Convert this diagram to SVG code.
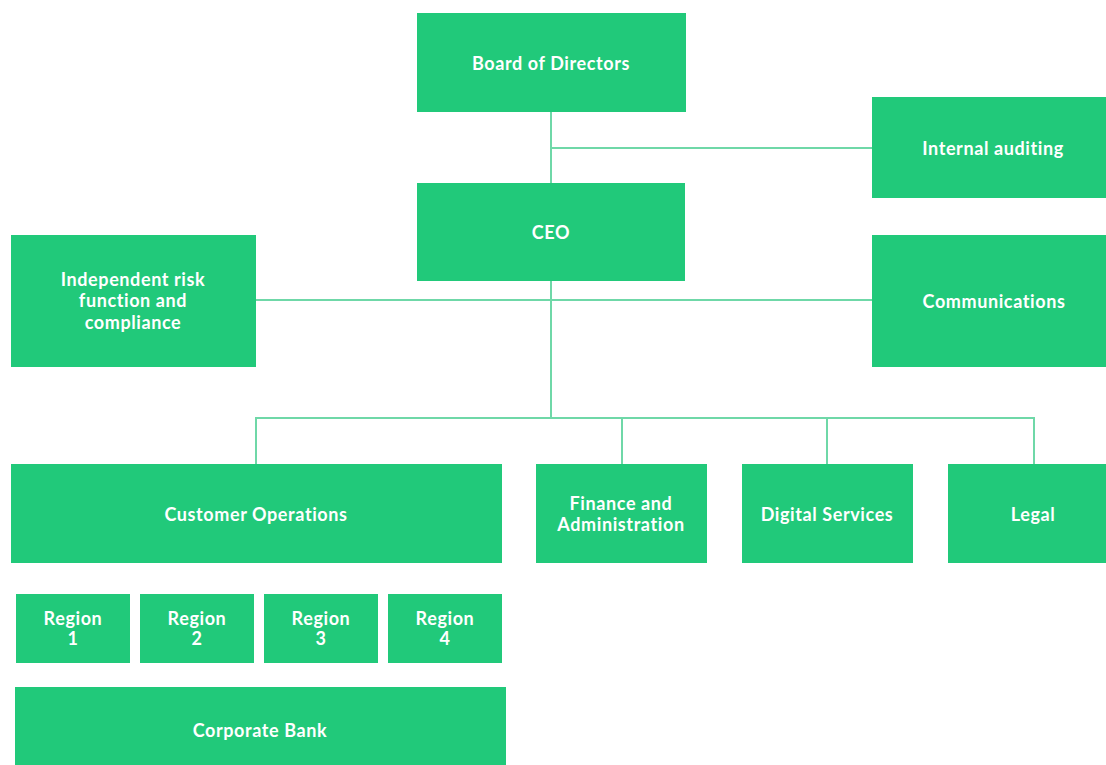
<svg xmlns="http://www.w3.org/2000/svg" width="1106" height="765" viewBox="0 0 1106 765">
<style>
.box{fill:#21C97A;}
.t{fill:#ffffff;font-family:Lato,"Liberation Sans",sans-serif;font-weight:bold;font-size:18px;letter-spacing:0.6px;text-anchor:middle;dominant-baseline:central;}
.c{stroke:#6FD8A8;stroke-width:2;fill:none;}
</style>
<rect width="1106" height="765" fill="#ffffff"/>
<g id="connectors">
<line class="c" x1="551" y1="112" x2="551" y2="183"/>
<line class="c" x1="551" y1="148" x2="872" y2="148"/>
<line class="c" x1="256" y1="300" x2="872" y2="300"/>
<line class="c" x1="551" y1="281" x2="551" y2="418"/>
<polyline class="c" points="256,464 256,418 1034,418 1034,464"/>
<line class="c" x1="622" y1="418" x2="622" y2="464"/>
<line class="c" x1="827" y1="418" x2="827" y2="464"/>
</g>
<g id="board"><rect class="box" x="417" y="13" width="269" height="99"/><text class="t" x="551" y="63">Board of Directors</text></g>
<g id="ceo"><rect class="box" x="417" y="183" width="268" height="98"/><text class="t" x="551" y="232">CEO</text></g>
<g id="internal-auditing"><rect class="box" x="872" y="97" width="240" height="101"/><text class="t" x="993" y="148">Internal auditing</text></g>
<g id="communications"><rect class="box" x="872" y="235" width="240" height="132"/><text class="t" x="994" y="301">Communications</text></g>
<g id="risk"><rect class="box" x="11" y="235" width="245" height="132"/><text class="t" x="133" y="279">Independent risk</text><text class="t" x="133" y="300">function and</text><text class="t" x="133" y="322">compliance</text></g>
<g id="customer-operations"><rect class="box" x="11" y="464" width="491" height="99"/><text class="t" x="256" y="514">Customer Operations</text></g>
<g id="finance"><rect class="box" x="536" y="464" width="171" height="99"/><text class="t" x="621" y="503">Finance and</text><text class="t" x="621" y="524">Administration</text></g>
<g id="digital"><rect class="box" x="742" y="464" width="171" height="99"/><text class="t" x="827" y="514">Digital Services</text></g>
<g id="legal"><rect class="box" x="948" y="464" width="170" height="99"/><text class="t" x="1033" y="514">Legal</text></g>
<g id="region1"><rect class="box" x="16" y="594" width="114" height="69"/><text class="t" x="73" y="618">Region</text><text class="t" x="73" y="638">1</text></g>
<g id="region2"><rect class="box" x="140" y="594" width="114" height="69"/><text class="t" x="197" y="618">Region</text><text class="t" x="197" y="638">2</text></g>
<g id="region3"><rect class="box" x="264" y="594" width="114" height="69"/><text class="t" x="321" y="618">Region</text><text class="t" x="321" y="638">3</text></g>
<g id="region4"><rect class="box" x="388" y="594" width="114" height="69"/><text class="t" x="445" y="618">Region</text><text class="t" x="445" y="638">4</text></g>
<g id="corporate-bank"><rect class="box" x="15" y="687" width="491" height="90"/><text class="t" x="260" y="730">Corporate Bank</text></g>
</svg>
